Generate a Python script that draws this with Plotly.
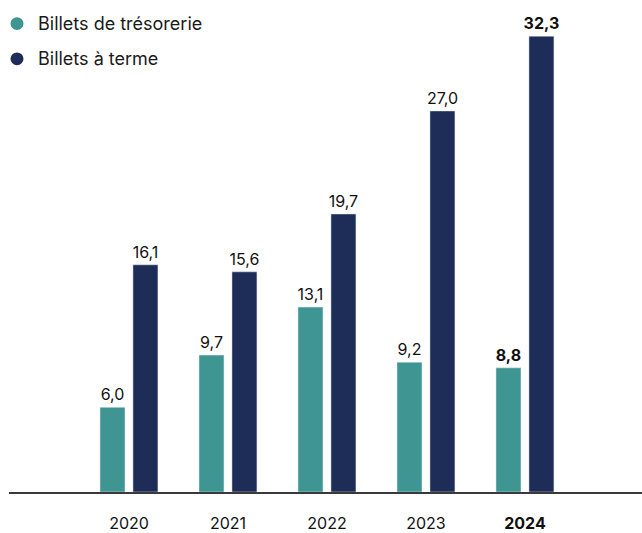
import plotly.graph_objects as go

years = [2020, 2021, 2022, 2023, 2024]
year_labels = ["2020", "2021", "2022", "2023", "<b>2024</b>"]
tresorerie = [6.0, 9.7, 13.1, 9.2, 8.8]
terme = [16.1, 15.6, 19.7, 27.0, 32.3]
series_names = ["Billets de trésorerie", "Billets à terme"]

teal = "#3F9591"
navy = "#1E2C58"

W, H = 642, 533
L = 9      # left margin, where the axis line starts
PH = 502   # plot area height


def fmt(vals):
    out = [f"{v:.1f}".replace(".", ",") for v in vals]
    out[-1] = "<b>" + out[-1] + "</b>"
    return out


fig = go.Figure()

fig.add_trace(go.Bar(x=years, y=tresorerie, text=fmt(tresorerie), name=series_names[0],
                     textposition="outside", marker_color=teal,
                     width=0.2525, offset=-0.293, showlegend=False,
                     cliponaxis=False, constraintext="none"))
fig.add_trace(go.Bar(x=years, y=terme, text=fmt(terme), name=series_names[1],
                     textposition="outside", marker_color=navy,
                     width=0.2525, offset=0.04, showlegend=False,
                     cliponaxis=False, constraintext="none"))

fig.update_traces(textfont=dict(size=16, color="#111111"))

# hand-made legend with round markers (top left)
PW = W - L
for i, (name, col) in enumerate(zip(series_names, [teal, navy])):
    cy = 24 + 36 * i
    fig.add_shape(type="circle", xref="paper", yref="paper",
                  x0=(10.5 - L) / PW, x1=(23.5 - L) / PW,
                  y0=1 - (cy + 6.5) / PH, y1=1 - (cy - 6.5) / PH,
                  fillcolor=col, line_width=0)
    fig.add_annotation(text=name, xref="paper", yref="paper", x=(36 - L) / PW, y=1 - cy / PH,
                       xanchor="left", yanchor="middle", showarrow=False,
                       font=dict(size=18, color="#1a1a1a"))

fig.update_layout(
    width=W, height=H,
    margin=dict(l=L, r=0, t=0, b=H - PH),
    plot_bgcolor="white", paper_bgcolor="white",
    font=dict(family="Inter, Arial, sans-serif", size=16, color="#111111"),
    barmode="overlay",
    showlegend=False,
    xaxis=dict(range=[2018.697 + L / 99, 2025.182], tickvals=years, ticktext=year_labels,
               showgrid=False, zeroline=False, showline=True, linecolor="#3a3a3a",
               linewidth=2, ticks="outside", ticklen=16,
               tickcolor="rgba(0,0,0,0)", tickfont=dict(size=16)),
    yaxis=dict(range=[0, PH / 14.4], visible=False, showgrid=False),
)

# drop the default page margin so the chart sits at the window's top-left corner
fig.write_html("out.html", config={"displayModeBar": False},
               post_script="document.body.style.margin='0';"
               "document.documentElement.style.overflow='hidden';")
